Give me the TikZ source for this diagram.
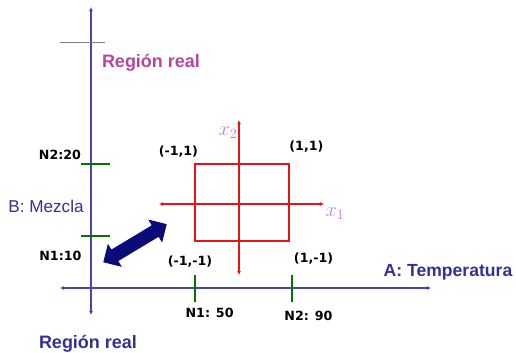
\documentclass[tikz,border=0pt]{standalone}
\usepackage{fontspec}
\setsansfont{Liberation Sans}
\newfontfamily\vfont{DejaVu Sans}
\usetikzlibrary{arrows.meta,shapes.arrows}

\definecolor{ejeazul}{RGB}{70,70,170}
\definecolor{textazul}{RGB}{50,50,150}
\definecolor{regmag}{RGB}{180,70,160}
\definecolor{ticverde}{RGB}{0,115,0}
\definecolor{rojo}{RGB}{230,20,20}
\definecolor{violeta}{RGB}{190,130,210}
\definecolor{marino}{RGB}{10,10,120}

\tikzset{
  eje/.style={ejeazul, line width=0.8pt, {Latex[length=3pt,width=3pt]}-{Latex[length=3pt,width=3pt]}},
  ejerojo/.style={rojo, line width=0.9pt, {Latex[length=3pt,width=3pt]}-{Latex[length=3pt,width=3pt]}},
  tic/.style={ticverde, line width=1.2pt},
  nivel/.style={font=\vfont\bfseries\fontsize{9}{11}\selectfont},
  esquina/.style={font=\vfont\bfseries\fontsize{9}{11}\selectfont},
  region/.style={font=\sffamily\bfseries\fontsize{12.8}{15}\selectfont}
}

\begin{document}
\begin{tikzpicture}
    \useasboundingbox (0,0) rectangle (12.9,8.8);

    % ejes del espacio real
    \coordinate (yarriba) at (2.275,8.625);
    \coordinate (yabajo) at (2.275,0.925);
    \coordinate (xizq) at (1.5,1.6);
    \coordinate (xder) at (10.775,1.6);
    \draw[eje] (yabajo) -- (yarriba);
    \draw[eje] (xizq) -- (xder);

    % linea gris
    \coordinate (g1) at (1.5,7.75);
    \coordinate (g2) at (2.625,7.75);
    \draw[gray, line width=0.6pt] (g1) -- (g2);

    \node[region, regmag] (regsup) at (3.775,7.225) {Región real};
    \node[region, textazul] (reginf) at (2.2,0.2) {Región real};
    \node[font=\sffamily\fontsize{12.2}{14}\selectfont, textazul] (factB) at (1.15,3.65) {B: Mezcla};
    \node[textazul, font=\sffamily\bfseries\fontsize{12.5}{14}\selectfont] (factA) at (11.2,2.0) {A: Temperatura};

    % niveles de B
    \coordinate (b2a) at (2.025,4.7);
    \coordinate (b2b) at (2.75,4.7);
    \coordinate (b1a) at (2.025,2.9);
    \coordinate (b1b) at (2.75,2.9);
    \draw[tic] (b2a) -- (b2b);
    \draw[tic] (b1a) -- (b1b);
    \node[nivel] (n220) at (1.5,4.935) {N2:20};
    \node[nivel] (n110) at (1.51,2.4) {N1:10};

    % niveles de A
    \coordinate (a1a) at (4.875,1.925);
    \coordinate (a1b) at (4.875,1.25);
    \coordinate (a2a) at (7.3,1.925);
    \coordinate (a2b) at (7.3,1.25);
    \draw[tic] (a1a) -- (a1b);
    \draw[tic] (a2a) -- (a2b);
    \node[nivel] (n150) at (5.24,0.99) {N1: 50};
    \node[nivel] (n290) at (7.71,0.91) {N2: 90};

    % region codificada
    \draw[rojo, line width=1pt] (4.875,2.78) rectangle (7.225,4.7);
    \coordinate (x1izq) at (3.975,3.7);
    \coordinate (x1der) at (8.1,3.7);
    \coordinate (x2arr) at (5.975,5.8);
    \coordinate (x2aba) at (5.975,1.925);
    \draw[ejerojo] (x1izq) -- (x1der);
    \draw[ejerojo] (x2aba) -- (x2arr);
    \node[violeta, font=\fontsize{14}{16}\selectfont] (lx1) at (8.375,3.45) {$x_1$};
    \node[violeta, font=\fontsize{14}{16}\selectfont] (lx2) at (5.7,5.475) {$x_2$};

    \node[esquina] (mm) at (4.46,5.0) {(-1,1)};
    \node[esquina] (pm) at (7.66,5.125) {(1,1)};
    \node[esquina] (mn) at (4.75,2.25) {(-1,-1)};
    \node[esquina] (pn) at (7.84,2.34) {(1,-1)};

    % flecha doble
    \node[double arrow, fill=marino, rotate=31, minimum height=1.85cm,
          inner sep=0.16cm, double arrow head extend=0.17cm,
          double arrow tip angle=90] (trans) at (3.375,2.72) {};
\end{tikzpicture}
\end{document}
